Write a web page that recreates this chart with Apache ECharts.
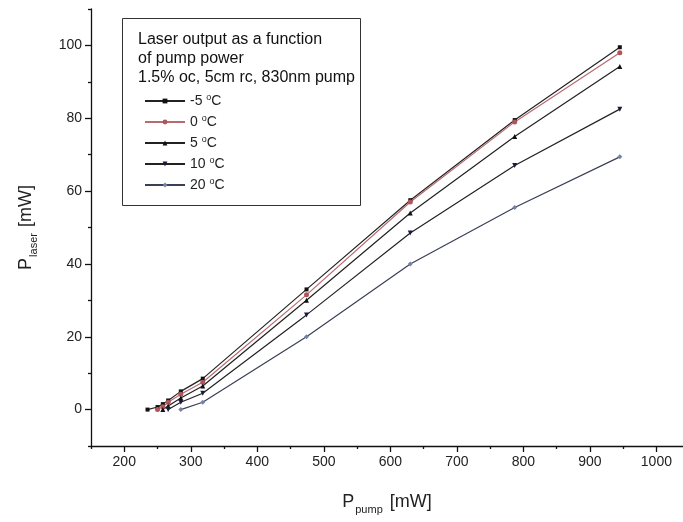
<!DOCTYPE html>
<html>
<head>
<meta charset="utf-8">
<script src="https://cdn.jsdelivr.net/npm/echarts@6/dist/echarts.min.js"></script>
<style>
  html, body { margin: 0; padding: 0; background: #fff; }
  #main { width: 683px; height: 522px; }
</style>
</head>
<body>
<div id="main"></div>
<script>
// data: pump power [mW] vs laser output [mW]
const names = ["-5", "0", "5", "10", "20"];
const pumpM5 = [235, 250, 258, 266, 285, 318, 474, 630, 787, 945];
const laserM5 = [0, 0.7, 1.5, 2.5, 5, 8.5, 33, 57.5, 79.5, 99.5];
const pump0 = [250, 258, 266, 285, 318, 474, 630, 787, 945];
const laser0 = [0, 0.8, 2, 4.2, 7.5, 31.5, 57, 79, 98];
const pump5 = [258, 266, 285, 318, 474, 630, 787, 945];
const laser5 = [0, 1, 3.2, 6.5, 30, 54, 75, 94.2];
const pump10 = [266, 285, 318, 474, 630, 787, 945];
const laser10 = [0, 2, 4.5, 26, 48.5, 67, 82.5];
const pump20 = [285, 318, 474, 630, 787, 945];
const laser20 = [0, 2, 20, 40, 55.5, 69.4];

// tick labels
const xMajor = [200, 300, 400, 500, 600, 700, 800, 900, 1000];
const xMinor = [150, 250, 350, 450, 550, 650, 750, 850, 950];
const yMajor = [0, 20, 40, 60, 80, 100];
const yMinor = [-10, 10, 30, 50, 70, 90, 110];

const FONT = "Liberation Sans";
const pair = (xs, ys) => xs.map((x, i) => [x, ys[i]]);

const seriesDefs = [
  { name: names[0], data: pair(pumpM5, laserM5), color: "#111", line: "#222", symbol: "rect", size: 4 },
  { name: names[1], data: pair(pump0, laser0), color: "#b2555a", line: "#b86a70", symbol: "circle", size: 5 },
  { name: names[2], data: pair(pump5, laser5), color: "#111", line: "#222", symbol: "triangle", size: 5 },
  { name: names[3], data: pair(pump10, laser10), color: "#1a1a40", line: "#222", symbol: "triangle", size: 5, rotate: 180 },
  { name: names[4], data: pair(pump20, laser20), color: "#7283a8", line: "#3a3f55", symbol: "diamond", size: 5 }
];

const chart = echarts.init(document.getElementById("main"));

const axisBase = {
  type: "value",
  gridIndex: 0,
  splitLine: { show: false },
  axisLine: { onZero: false, lineStyle: { color: "#111", width: 1.3 } }
};

chart.setOption({
  animation: false,
  backgroundColor: "#fff",
  textStyle: { fontFamily: FONT },
  grid: { left: 91, top: 9, width: 594, bottom: 76 },
  xAxis: [
    Object.assign({}, axisBase, {
      min: 150, max: 1040, position: "bottom",
      axisTick: { customValues: xMajor, length: 6, lineStyle: { color: "#111", width: 1.3 } },
      axisLabel: { customValues: xMajor, color: "#222", fontSize: 14, margin: 9, fontFamily: FONT, formatter: (v) => String(v) },
      name: "P{s|pump} [mW]",
      nameLocation: "middle",
      nameGap: 44,
      nameTextStyle: {
        fontSize: 18, color: "#222", fontFamily: FONT,
        rich: { s: { fontSize: 11, color: "#222", padding: [14, 2, 0, 1], fontFamily: FONT } }
      }
    }),
    Object.assign({}, axisBase, {
      min: 150, max: 1040, position: "bottom",
      axisLine: { show: false, onZero: false },
      axisTick: { customValues: xMinor, length: 3, lineStyle: { color: "#111", width: 1.3 } },
      axisLabel: { show: false }
    })
  ],
  yAxis: [
    Object.assign({}, axisBase, {
      min: -10, max: 110, position: "left",
      axisTick: { customValues: yMajor, length: 6, lineStyle: { color: "#111", width: 1.3 } },
      axisLabel: { customValues: yMajor, color: "#222", fontSize: 14, margin: 9, fontFamily: FONT },
      name: "P{s|laser} [mW]",
      nameLocation: "middle",
      nameGap: 52,
      nameRotate: 90,
      nameTextStyle: {
        fontSize: 18, color: "#222", fontFamily: FONT,
        rich: { s: { fontSize: 11, color: "#222", padding: [14, 1, 0, 1], fontFamily: FONT } }
      }
    }),
    Object.assign({}, axisBase, {
      min: -10, max: 110, position: "left",
      axisLine: { show: false, onZero: false },
      axisTick: { customValues: yMinor, length: 3, lineStyle: { color: "#111", width: 1.3 } },
      axisLabel: { show: false }
    })
  ],
  legend: {
    orient: "vertical",
    left: 139,
    top: 88,
    itemWidth: 40,
    itemHeight: 6,
    itemGap: 5,
    data: names,
    formatter: (n) => n + " {o|o}C",
    textStyle: {
      fontSize: 14, color: "#222", fontFamily: FONT, lineHeight: 16,
      rich: { o: { fontSize: 9, verticalAlign: "top", lineHeight: 10, fontFamily: FONT } }
    }
  },
  graphic: [
    {
      type: "rect",
      shape: { x: 122.5, y: 18.5, width: 238, height: 187 },
      style: { fill: "#fff", stroke: "#333", lineWidth: 1 },
      z: 0
    },
    {
      type: "text",
      left: 138,
      top: 30,
      style: {
        text: "Laser output as a function\nof pump power\n1.5% oc, 5cm rc, 830nm pump",
        font: "16px " + FONT,
        lineHeight: 19,
        fill: "#111"
      },
      z: 1
    }
  ],
  series: seriesDefs.map((s) => ({
    name: s.name,
    type: "line",
    xAxisIndex: 0,
    yAxisIndex: 0,
    data: s.data,
    symbol: s.symbol,
    symbolSize: s.size,
    symbolRotate: s.rotate || 0,
    showAllSymbol: true,
    itemStyle: { color: s.color },
    lineStyle: { color: s.line, width: 1.2 },
    z: 3
  }))
});
</script>
</body>
</html>
